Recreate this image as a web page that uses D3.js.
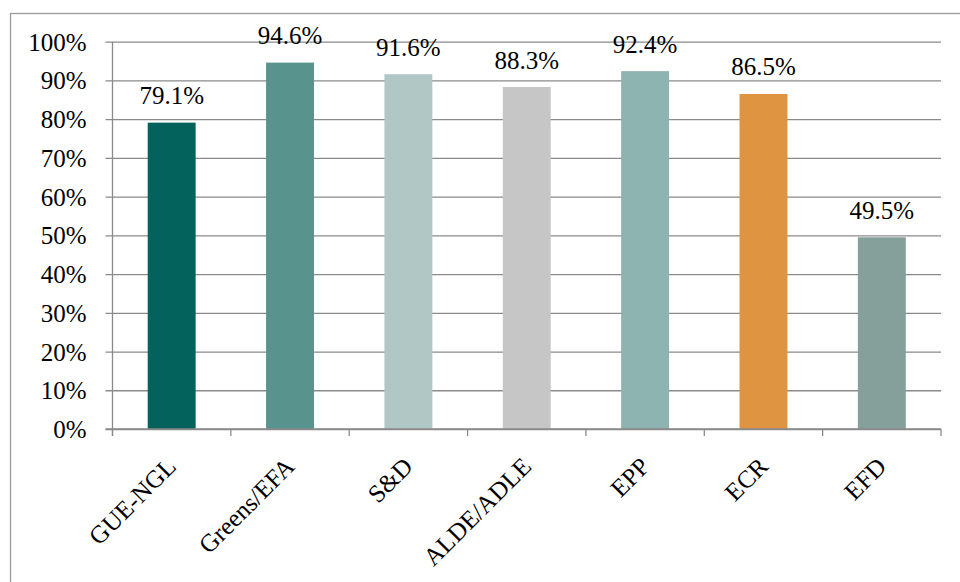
<!DOCTYPE html>
<html>
<head>
<meta charset="utf-8">
<script src="https://d3js.org/d3.v7.min.js"></script>
<style>
  body { margin: 0; background: white; }
  svg text { font-family: 'Liberation Serif', 'DejaVu Serif', serif !important; fill: black; }
</style>
</head>
<body>
<div id="chart"></div>
<script>
// groups and share of votes
var groups = ["GUE-NGL", "Greens/EFA", "S&D", "ALDE/ADLE", "EPP", "ECR", "EFD"]
var values = [79.1, 94.6, 91.6, 88.3, 92.4, 86.5, 49.5]
var colors = ["#03625B", "#58938E", "#B0C7C5", "#C6C6C6", "#8EB4B1", "#DF9442", "#859F9A"]
var yTicks = [0, 10, 20, 30, 40, 50, 60, 70, 80, 90, 100]

var fontFam = "'Liberation Serif', 'DejaVu Serif', serif"
var fontSize = '25px'
var width = 960, height = 582
var svg = d3.select('#chart').append('svg')
  .attr('width', width)
  .attr('height', height)
  .style('font-family', fontFam)

// outer frame (cut off at the right / bottom like the original)
svg.append('rect')
  .attr('x', 10.5)
  .attr('y', 13.5)
  .attr('width', 980)
  .attr('height', 600)
  .style('fill', 'none')
  .style('stroke', '#9a9a9a')
  .style('stroke-width', 1.3)

var plotLeft = 112.5, plotRight = 941, plotTop = 41.7, plotBottom = 429

var xMap = d3.scaleBand()
  .domain(groups)
  .range([plotLeft, plotRight])
  .paddingInner(0.595)
  .paddingOuter(0.2975)

var yMap = d3.scaleLinear()
  .domain([0, 100])
  .range([plotBottom, plotTop])

var g = svg.append('g')

// gridlines
var yAxis = d3.axisLeft(yMap)
  .tickValues(yTicks)
  .tickSize(-(plotRight - plotLeft))
  .tickSizeOuter(0)
  .tickFormat(d => d + '%')

var gY = g.append('g')
  .attr('transform', 'translate(' + [plotLeft, 0] + ')')
  .call(yAxis)
  .attr('font-family', fontFam)

gY.select('.domain').remove()
gY.selectAll('.tick line')
  .attr('x1', -7)
  .style('stroke', '#8a8a8a')
  .style('stroke-width', 1.3)
gY.selectAll('.tick text')
  .style('font-family', fontFam)
  .style('font-size', fontSize)
  .style('fill', 'black')
  .attr('x', -26)
  .attr('dy', '0.34em')

// bars
g.selectAll('.bar')
  .data(values)
  .enter().append('rect')
  .attr('class', 'bar')
  .attr('x', (d, i) => xMap(groups[i]))
  .attr('y', d => yMap(d))
  .attr('width', xMap.bandwidth())
  .attr('height', d => yMap(0) - yMap(d))
  .style('fill', (d, i) => colors[i])

// value labels
g.selectAll('.val')
  .data(values)
  .enter().append('text')
  .attr('class', 'val')
  .attr('x', (d, i) => xMap(groups[i]) + xMap.bandwidth() / 2)
  .attr('y', d => yMap(d) - 18.5)
  .style('text-anchor', 'middle')
  .style('font-family', fontFam)
  .style('font-size', fontSize)
  .text(d => d.toFixed(1) + '%')

// axis lines + ticks
var step = xMap.step()
var boundaries = d3.range(groups.length + 1).map(i => plotLeft + i * step)

g.append('line')
  .attr('x1', plotLeft).attr('x2', plotLeft)
  .attr('y1', plotTop).attr('y2', plotBottom + 7)
  .style('stroke', '#8a8a8a')
  .style('stroke-width', 1.3)

g.append('line')
  .attr('x1', plotLeft - 7).attr('x2', plotRight)
  .attr('y1', plotBottom).attr('y2', plotBottom)
  .style('stroke', '#8a8a8a')
  .style('stroke-width', 1.3)

g.selectAll('.xtick')
  .data(boundaries)
  .enter().append('line')
  .attr('class', 'xtick')
  .attr('x1', d => d).attr('x2', d => d)
  .attr('y1', plotBottom).attr('y2', plotBottom + 7)
  .style('stroke', '#8a8a8a')
  .style('stroke-width', 1.3)

// rotated category labels
g.selectAll('.cat')
  .data(groups)
  .enter().append('text')
  .attr('class', 'cat')
  .attr('transform', d => 'translate(' + [xMap(d) + xMap.bandwidth() / 2 + 6, 468] + ') rotate(-45)')
  .style('text-anchor', 'end')
  .style('font-family', fontFam)
  .style('font-size', fontSize)
  .text(d => d)
</script>
</body>
</html>
